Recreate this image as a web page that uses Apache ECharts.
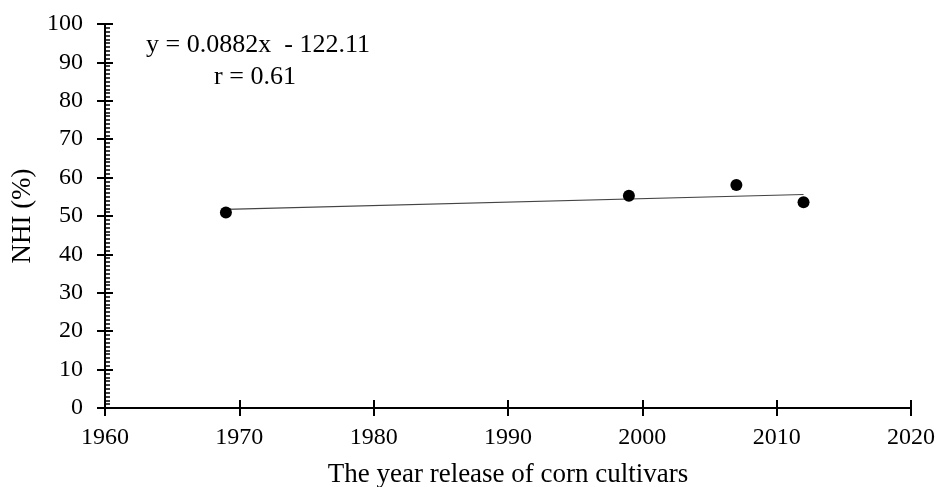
<!DOCTYPE html>
<html>
<head>
<meta charset="utf-8">
<script src="https://cdn.jsdelivr.net/npm/echarts@6/dist/echarts.min.js"></script>
<style>
  html, body { margin: 0; padding: 0; background: #fff; }
  #chart { width: 939px; height: 487px; }
</style>
</head>
<body>
<div id="chart"></div>
<script>
// values
const years = [1969, 1999, 2007, 2012];
const nhi = [50.9, 55.3, 58.1, 53.6];
const trendYears = [1969, 2012];
const trendNhi = [51.7, 55.6];
const equationText = 'y = 0.0882x  - 122.11';
const rText = 'r = 0.61';

var chart = echarts.init(document.getElementById('chart'));

const font = 'Liberation Serif';
const black = '#000';

chart.setOption({
  animation: false,
  grid: { left: 105, right: 28, top: 24, bottom: 79, outerBoundsMode: 'none' },
  xAxis: [
    {
      type: 'value', min: 1960, max: 2020, interval: 10,
      name: 'The year release of corn cultivars',
      nameLocation: 'middle', nameGap: 53,
      nameTextStyle: { fontFamily: font, fontSize: 27, color: black },
      axisLine: { lineStyle: { color: black, width: 2 } },
      axisTick: { length: 8, lineStyle: { color: black, width: 2 } },
      axisLabel: { fontFamily: font, fontSize: 24, color: black, margin: 18, formatter: v => String(v) },
      splitLine: { show: false }
    },
    {
      // second copy only for the ticks pointing inward
      type: 'value', min: 1960, max: 2020, interval: 10, position: 'bottom',
      axisLine: { show: false },
      axisTick: { inside: true, length: 8, lineStyle: { color: black, width: 2 } },
      axisLabel: { show: false },
      splitLine: { show: false }
    }
  ],
  yAxis: [
    {
      type: 'value', min: 0, max: 100, interval: 10,
      name: 'NHI (%)',
      nameLocation: 'middle', nameGap: 69, nameRotate: 90,
      nameTextStyle: { fontFamily: font, fontSize: 27, color: black },
      axisLine: { show: true, lineStyle: { color: black, width: 2 } },
      axisTick: { show: true, length: 8, lineStyle: { color: black, width: 2 } },
      axisLabel: { fontFamily: font, fontSize: 24, color: black, margin: 22 },
      splitLine: { show: false }
    },
    {
      type: 'value', min: 0, max: 100, interval: 10, position: 'left',
      axisLine: { show: false },
      axisTick: { show: true, inside: true, length: 8, lineStyle: { color: black, width: 2 } },
      minorTick: { show: true, splitNumber: 10, length: 5, lineStyle: { color: black, width: 1.5 } },
      axisLabel: { show: false },
      splitLine: { show: false }
    }
  ],
  graphic: [
    {
      type: 'text', x: 258, y: 45,
      style: { text: equationText, fontFamily: font, fontSize: 26, fill: black, align: 'center', verticalAlign: 'middle' }
    },
    {
      type: 'text', x: 255, y: 77,
      style: { text: rText, fontFamily: font, fontSize: 26, fill: black, align: 'center', verticalAlign: 'middle' }
    }
  ],
  series: [
    {
      type: 'line',
      data: trendYears.map((x, i) => [x, trendNhi[i]]),
      symbol: 'none',
      lineStyle: { color: '#444', width: 1.2 },
      z: 2
    },
    {
      type: 'scatter',
      data: years.map((x, i) => [x, nhi[i]]),
      symbol: 'circle',
      symbolSize: 12,
      itemStyle: { color: black, opacity: 1 },
      z: 3
    }
  ]
});
</script>
</body>
</html>
